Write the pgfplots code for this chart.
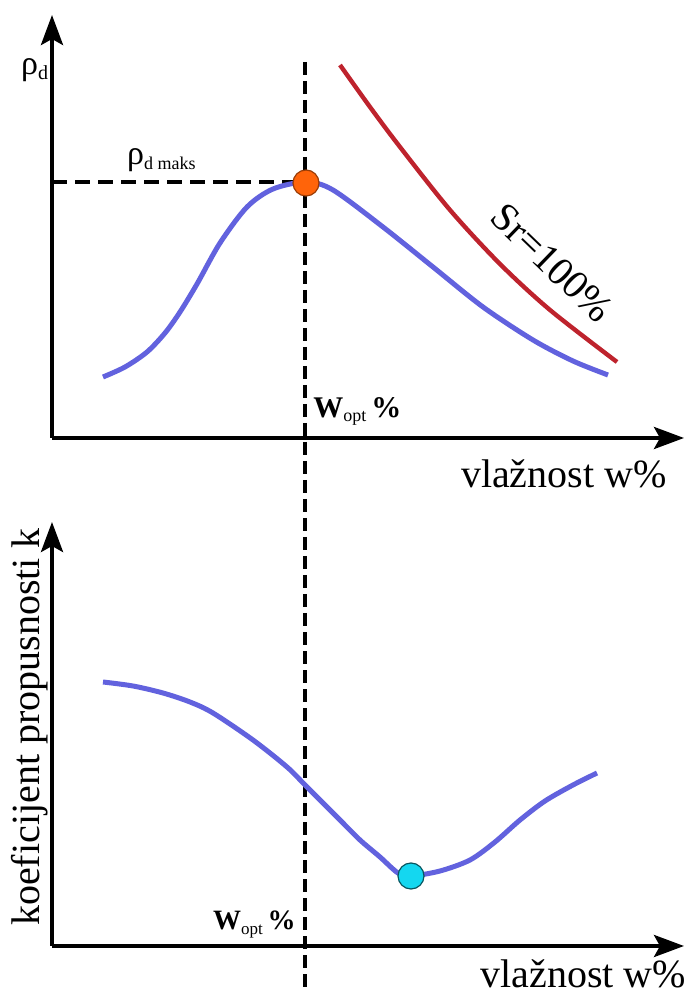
\documentclass[border=0pt]{standalone}
\usepackage{pgfplots}
\pgfplotsset{compat=1.18}
\usepackage{fontspec}
\setmainfont{Liberation Serif}
\usetikzlibrary{arrows.meta}

\definecolor{curveblue}{RGB}{98,98,222}
\definecolor{satred}{RGB}{190,35,45}
\definecolor{optorange}{RGB}{255,100,10}
\definecolor{optcyan}{RGB}{20,215,240}

% one unit = one pixel of the reference (0.5pt), y counted from the bottom
\pgfplotsset{
  panel/.style={
    x=0.5pt, y=0.5pt,
    axis lines=left,
    axis line style={line width=2pt, -{Stealth[length=15pt,width=11pt,inset=3pt]}},
    xtick=\empty, ytick=\empty,
    xmin=52, xmax=684,
    clip=false,
    anchor=south west,
  },
}

\newcommand{\labelfont}{\fontsize{20}{24}\selectfont}

\begin{document}
\begin{tikzpicture}
\useasboundingbox (-26pt,-21.5pt) rectangle (316pt,473pt);

% gustoca suhog tla
\begin{axis}[panel, at={(0pt,254pt)}, ymin=551, ymax=974]
  \draw[line width=1.7pt, dash pattern=on 6.5pt off 3pt] (axis cs:305,927) -- (axis cs:305,0);
  \draw[line width=2pt, dash pattern=on 7.5pt off 4pt] (axis cs:52,807) -- (axis cs:300,807);
  \addplot[curveblue, line width=2.5pt, smooth] coordinates {
    (103,612) (125,622) (147,637) (165,656) (180,677) (197,705) (220,746)
    (247,782) (273,800) (306,807) (333,799) (383,762) (433,722) (483,682)
    (533,649) (573,628) (608,614)};
  \addplot[satred, line width=2.2pt, smooth] coordinates {
    (340,924) (370,882) (400,842) (450,779) (500,725) (550,679) (617,627)};
  \addplot[only marks, mark=*, mark size=6.5pt,
    mark options={fill=optorange, draw=optorange!60!black, line width=0.6pt}]
    coordinates {(306,806)};
  \node[anchor=base west, font=\fontsize{17}{20}\selectfont] at (axis cs:14,914)
    {ρ\raisebox{-2.5pt}{\fontsize{10}{11}\selectfont d}};
  \node[anchor=base west, font=\fontsize{17}{20}\selectfont] at (axis cs:120,824)
    {ρ\raisebox{-2.5pt}{\fontsize{9}{10}\selectfont d maks}};
  \node[anchor=base west, inner xsep=0pt, font=\fontsize{15}{17}\selectfont] at (axis cs:313,571)
    {\textbf{W}\raisebox{-2pt}{\fontsize{9}{10}\selectfont opt}\,\textbf{\%}};
  \node[rotate=-44, font=\labelfont] at (axis cs:552,726) {Sr=100\%};
  \node[anchor=base east, inner xsep=0pt, font=\labelfont] at (axis cs:667,501) {vlažnost w\%};
\end{axis}

% koeficijent propusnosti
\begin{axis}[panel, at={(0pt,0pt)}, ymin=43, ymax=467]
  \addplot[curveblue, line width=2.5pt, smooth] coordinates {
    (103,307) (133,303) (163,296) (190,287) (213,276) (253,249) (287,222)
    (307,202) (340,169) (360,149) (380,132) (398,116) (411,113) (440,118)
    (470,129) (495,147) (520,169) (545,188) (573,204) (597,216)};
  \addplot[only marks, mark=*, mark size=6.5pt,
    mark options={fill=optcyan, draw=optcyan!40!black, line width=0.6pt}]
    coordinates {(411,113)};
  \node[anchor=base east, inner xsep=0pt, font=\fontsize{14}{16}\selectfont] at (axis cs:296,59)
    {\textbf{W}\raisebox{-2pt}{\fontsize{8.5}{10}\selectfont opt}\,\textbf{\%}};
  \node[rotate=90, anchor=base, font=\labelfont] at (axis cs:40,262) {koeficijent propusnosti k};
  \node[anchor=base west, inner xsep=0pt, font=\labelfont] at (axis cs:480,2) {vlažnost w\%};
\end{axis}
\end{tikzpicture}
\end{document}
